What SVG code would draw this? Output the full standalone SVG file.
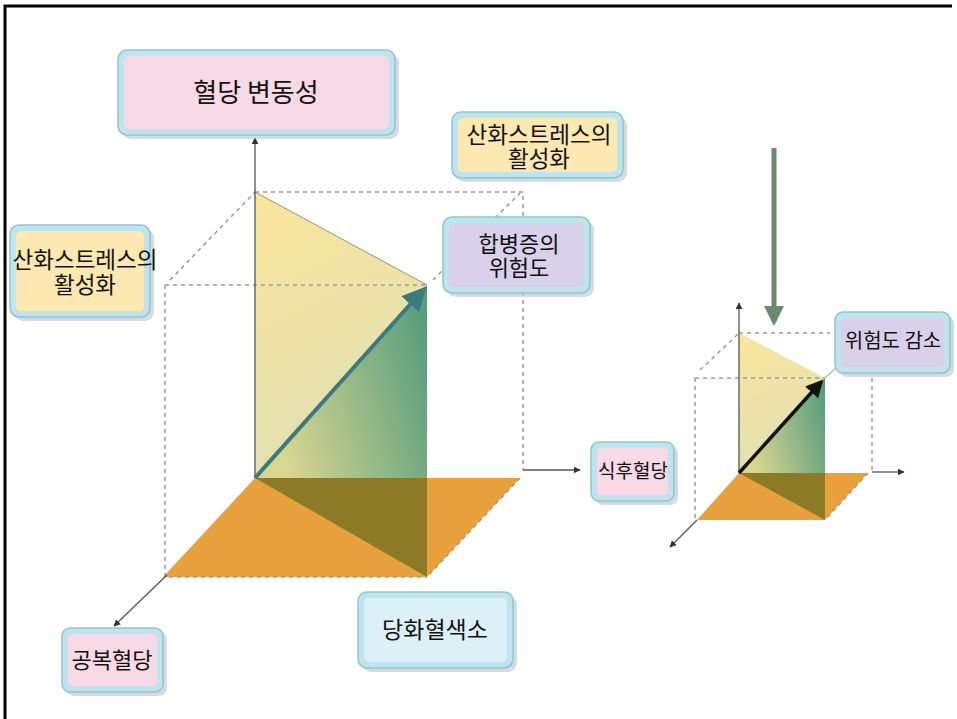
<svg xmlns="http://www.w3.org/2000/svg" width="957" height="719" viewBox="0 0 957 719">
<defs>
<style>
.lbl{font-family:"Noto Sans CJK KR","Noto Sans",sans-serif;fill:#111;text-anchor:middle}
.dash{stroke:#999;stroke-width:1.5;stroke-dasharray:4 4;fill:none}
.axis{stroke:#555;stroke-width:1.3;fill:none}
.shadow{fill:#c4ccd0;opacity:0.7}
.frame{fill:#bfe4ee;stroke:#8cc6d4;stroke-width:1.5}
</style>
<marker id="ah" viewBox="0 0 10 10" refX="9" refY="5" markerWidth="7" markerHeight="7" orient="auto" markerUnits="userSpaceOnUse"><path d="M0,0 L10,5 L0,10 z" fill="#333"/></marker>
<marker id="ahBig" viewBox="0 0 10 10" refX="8" refY="5" markerWidth="6" markerHeight="6" orient="auto"><path d="M0,0 L10,5 L0,10 z" fill="#3a7a80"/></marker>
<marker id="ahBlk" viewBox="0 0 10 10" refX="8" refY="5" markerWidth="5" markerHeight="5" orient="auto"><path d="M0,0 L10,5 L0,10 z" fill="#111"/></marker>
<marker id="ahG" viewBox="0 0 10 10" refX="8" refY="5" markerWidth="4" markerHeight="4" orient="auto"><path d="M0,0 L10,5 L0,10 z" fill="#6a8a70"/></marker>
<linearGradient id="gy" x1="0" y1="0" x2="0.3" y2="1"><stop offset="0" stop-color="#fbe59a"/><stop offset="1" stop-color="#e0e0b4"/></linearGradient>
<linearGradient id="gg" x1="0" y1="0.3" x2="1" y2="0"><stop offset="0" stop-color="#d8d690"/><stop offset="1" stop-color="#4f9a7c"/></linearGradient>
</defs>
<rect x="0" y="0" width="957" height="719" fill="#fff"/>
<path d="M5,719 V6 H952" stroke="#000" stroke-width="3" fill="none"/>

<g id="big-cube">
<polygon points="255,478 520,478 427,577 163,577" fill="#e8a13c"/>
<polygon points="255,192 427,285 255,478" fill="url(#gy)"/>
<polygon points="255,478 427,285 427,478" fill="url(#gg)"/>
<polygon points="255,478 427,478 427,577" fill="#8d7a26"/>
<line x1="255" y1="192" x2="427" y2="285" stroke="#8a9a70" stroke-width="1"/>
</g>

<g id="small-cube">
<polygon points="739,473 868,473 825,520 697,520" fill="#e8a13c"/>
<polygon points="739,333 825,378 739,473" fill="url(#gy)"/>
<polygon points="739,473 825,378 825,473" fill="url(#gg)"/>
<polygon points="739,473 825,473 825,520" fill="#8d7a26"/>
</g>

<g id="connectors">
<path class="dash" d="M255,192 H523 V470"/>
<path class="dash" d="M170,280 L255,192"/>
<path class="dash" d="M165,285 H427"/>
<path class="dash" d="M165,285 V577 H427"/>
<path class="dash" d="M433,280 L520,193"/>
<path class="dash" d="M520,478 L427,577"/>
<line class="axis" x1="255" y1="478" x2="255" y2="138" marker-end="url(#ah)"/>
<path class="axis" d="M523,470 H580" marker-end="url(#ah)"/>
<line class="axis" x1="167" y1="575" x2="114" y2="626" marker-end="url(#ah)"/>
<line x1="255" y1="478" x2="423" y2="290" stroke="#3a7a80" stroke-width="4" marker-end="url(#ahBig)"/>

<path class="dash" d="M739,333 H830"/>
<path class="dash" d="M700,370 L739,333"/>
<path class="dash" d="M695,378 H825"/>
<path class="dash" d="M695,378 V520"/>
<path class="dash" d="M872,370 V472"/>
<path class="dash" d="M868,473 L825,520"/>
<line class="axis" x1="739" y1="473" x2="739" y2="303" marker-end="url(#ah)"/>
<path class="axis" d="M872,472 H904" marker-end="url(#ah)"/>
<line class="axis" x1="697" y1="520" x2="670" y2="547" marker-end="url(#ah)"/>
<line x1="739" y1="473" x2="821" y2="382" stroke="#111" stroke-width="3.5" marker-end="url(#ahBlk)"/>
<line x1="825" y1="378" x2="838" y2="366" stroke="#bbb" stroke-width="1.5"/>
<line x1="774" y1="148" x2="774" y2="322" stroke="#6a8a70" stroke-width="5" marker-end="url(#ahG)"/>
</g>

<g id="node-bg-var">
<rect class="shadow" x="122" y="54" width="277" height="85" rx="9"/>
<rect class="frame" x="118" y="50" width="277" height="85" rx="9"/>
<rect x="124" y="56" width="265" height="73" rx="5" fill="#f8d9e6"/>
<text class="lbl" x="256" y="102" font-size="26">혈당 변동성</text>
</g>

<g id="node-ox-left">
<rect class="shadow" x="14" y="229" width="140" height="92" rx="9"/>
<rect class="frame" x="10" y="225" width="140" height="92" rx="9"/>
<rect x="16" y="231" width="128" height="80" rx="5" fill="#fde8b2"/>
<text class="lbl" x="85" y="268" font-size="22.5">산화스트레스의</text>
<text class="lbl" x="85" y="293" font-size="22.5">활성화</text>
</g>

<g id="node-ox-right">
<rect class="shadow" x="456" y="116" width="171" height="66" rx="9"/>
<rect class="frame" x="452" y="112" width="171" height="66" rx="9"/>
<rect x="458" y="118" width="159" height="54" rx="5" fill="#fde8b2"/>
<text class="lbl" x="539" y="143" font-size="22.5">산화스트레스의</text>
<text class="lbl" x="539" y="167" font-size="22.5">활성화</text>
</g>

<g id="node-risk">
<rect class="shadow" x="447" y="221" width="147" height="76" rx="9"/>
<rect class="frame" x="443" y="217" width="147" height="76" rx="9"/>
<rect x="449" y="223" width="135" height="64" rx="5" fill="#d9d0ea"/>
<text class="lbl" x="519" y="252" font-size="22">합병증의</text>
<text class="lbl" x="519" y="276" font-size="22">위험도</text>
</g>

<g id="node-post">
<rect class="shadow" x="595" y="446" width="83" height="59" rx="8"/>
<rect class="frame" x="591" y="442" width="83" height="59" rx="8"/>
<rect x="597" y="448" width="71" height="47" rx="4" fill="#f8d9e6"/>
<text class="lbl" x="633" y="478" font-size="19">식후혈당</text>
</g>

<g id="node-fast">
<rect class="shadow" x="66" y="632" width="101" height="64" rx="8"/>
<rect class="frame" x="62" y="628" width="101" height="64" rx="8"/>
<rect x="68" y="634" width="89" height="52" rx="4" fill="#f8d9e6"/>
<text class="lbl" x="112" y="668" font-size="22">공복혈당</text>
</g>

<g id="node-hba1c">
<rect class="shadow" x="362" y="596" width="155" height="76" rx="9"/>
<rect class="frame" x="358" y="592" width="155" height="76" rx="9"/>
<rect x="364" y="598" width="143" height="64" rx="5" fill="#dcf0f7"/>
<text class="lbl" x="435" y="638" font-size="23">당화혈색소</text>
</g>

<g id="node-reduce">
<rect class="shadow" x="839" y="316" width="115" height="61" rx="8"/>
<rect class="frame" x="835" y="312" width="115" height="61" rx="8"/>
<rect x="841" y="318" width="103" height="49" rx="4" fill="#d9d0ea"/>
<text class="lbl" x="893" y="348" font-size="20">위험도 감소</text>
</g>
</svg>
